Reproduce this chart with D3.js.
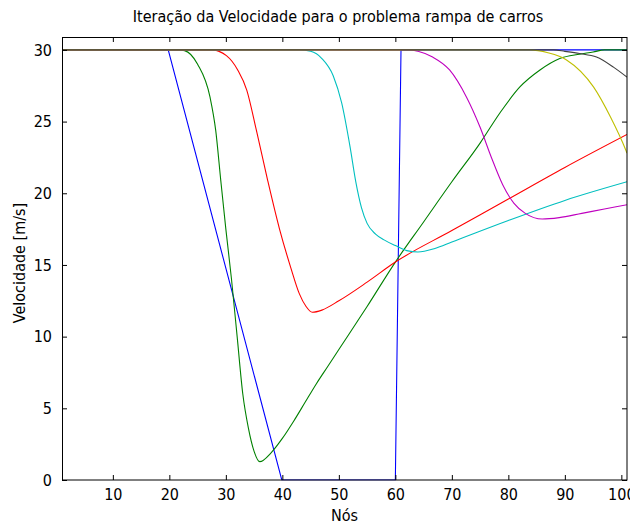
<!DOCTYPE html>
<html>
<head>
<meta charset="utf-8">
<script src="https://cdn.jsdelivr.net/npm/d3@7"></script>
<style>
body{margin:0;background:#fff}
text{font-family:"Liberation Sans Narrow","DejaVu Sans Condensed",sans-serif;fill:#000}
</style>
</head>
<body>
<div id="chart"></div>
<script>
// iterations, [node, velocity]
const blue1=[[1,30],[19.8,30],[39.9,0],[60,0],[61,30],[101,30]]
const green2=[[1,30],[21.7,30],[22.7,29.95],[25,29.0],[27.2,26.7],[28.2,24.4],[29.1,20.9],[30,17.5],[31,14],[32,10],[33,6],[34,3.6],[35,2.0],[36,1.28],[38,1.9],[40,2.9],[42,4.1],[44,5.4],[46,6.7],[48,7.9],[50,9.1],[55,12.1],[60,15.2],[65,18],[70,20.8],[75,23.5],[78.5,25.6],[82,27.4],[85.6,28.6],[89.1,29.4],[92.6,29.7],[95,29.85],[97,30],[101,30]]
const red3=[[1,30],[27.5,30],[30.1,29.6],[32.1,28.6],[33.7,27.2],[35.4,24.4],[37.4,20.9],[39.5,17.5],[41.5,14.8],[43,13],[44.2,12.1],[45.3,11.7],[47,11.85],[50,12.5],[55,13.8],[60,15.2],[70,17.4],[80,19.6],[90,21.8],[101,24.1]]
const cyan4=[[1,30],[43,30],[45,29.9],[47,29.4],[49,28.2],[50.5,26.3],[52,23.2],[53,20.8],[54,19],[55,17.9],[56.5,17.15],[58,16.75],[60,16.35],[62,16.0],[64,15.9],[67,16.15],[70,16.6],[80,18.1],[90,19.5],[101,20.8]]
const magenta5=[[1,30],[62.5,30],[64,29.9],[66.6,29.5],[69.6,28.6],[72.6,26.7],[75,24.6],[77,22.5],[79,20.6],[81,19.3],[83,18.6],[86,18.2],[89,18.3],[93,18.6],[97,18.9],[101,19.2]]
const yellow6=[[1,30],[83.8,30],[87,29.8],[90.3,29.3],[95.1,27.4],[98.1,25.3],[100.8,23],[101,22.8]]
const black7=[[1,30],[88,30],[90,29.9],[92.6,29.75],[95.6,29.5],[98.6,28.8],[101,28.1]]

const xTicks=[10,20,30,40,50,60,70,80,90,100]
const yTicks=[0,5,10,15,20,25,30]

const series=[
	{d:blue1,c:'#0000ff',lin:true},
	{d:green2,c:'#008000'},
	{d:red3,c:'#ff0000'},
	{d:cyan4,c:'#00bfbf'},
	{d:magenta5,c:'#bf00bf'},
	{d:yellow6,c:'#bfbf00'},
	{d:black7,c:'#404040'}
]

const margin={top:37,right:3,bottom:45,left:62}
const width=630-margin.left-margin.right,
	height=525-margin.top-margin.bottom

const svg=d3.select('#chart').append('svg')
	.attr('width',630)
	.attr('height',525)
const g=svg.append('g')
	.attr('transform','translate('+margin.left+','+margin.top+')')

const x=d3.scaleLinear().domain([1,101]).range([0,width])
const y=d3.scaleLinear().domain([0,30.9]).range([height,0])

g.append('defs').append('clipPath').attr('id','clip')
	.append('rect').attr('width',width).attr('height',height+1).attr('y',-0.5)

const plot=g.append('g').attr('clip-path','url(#clip)')
series.forEach(s=>{
	const line=d3.line()
		.x(d=>x(d[0]))
		.y(d=>y(d[1]))
		.curve(s.lin?d3.curveLinear:d3.curveMonotoneX)
	plot.append('path')
		.datum(s.d)
		.attr('fill','none')
		.attr('stroke',s.c)
		.attr('stroke-width',1.1)
		.attr('d',line)
})

function styleAxis(a){
	a.select('.domain').remove()
	a.selectAll('.tick line').attr('stroke','#000')
	a.selectAll('text').style('font-size','16px').attr('fill','#000')
}

g.append('g')
	.attr('transform','translate(0,'+height+')')
	.call(d3.axisBottom(x).tickValues(xTicks).tickSize(-5).tickPadding(9))
	.call(styleAxis)
g.append('g')
	.call(d3.axisTop(x).tickValues(xTicks).tickSize(-5).tickFormat(''))
	.call(styleAxis)
g.append('g')
	.call(d3.axisLeft(y).tickValues(yTicks).tickSize(-5).tickPadding(10))
	.call(styleAxis)
g.append('g')
	.attr('transform','translate('+width+',0)')
	.call(d3.axisRight(y).tickValues(yTicks).tickSize(-5).tickFormat(''))
	.call(styleAxis)

g.append('rect')
	.attr('x',0.5).attr('y',0.5)
	.attr('width',width-0.5).attr('height',height-0.5)
	.attr('fill','none').attr('stroke','#000')

svg.append('text')
	.attr('x',338).attr('y',22)
	.attr('text-anchor','middle')
	.style('font-size','16px')
	.text('Iteração da Velocidade para o problema rampa de carros')

svg.append('text')
	.attr('x',margin.left+width/2).attr('y',521)
	.attr('text-anchor','middle')
	.style('font-size','16px')
	.text('Nós')

svg.append('text')
	.attr('transform','translate(25,263) rotate(-90)')
	.attr('text-anchor','middle')
	.style('font-size','16px')
	.text('Velocidade [m/s]')
</script>
</body>
</html>
